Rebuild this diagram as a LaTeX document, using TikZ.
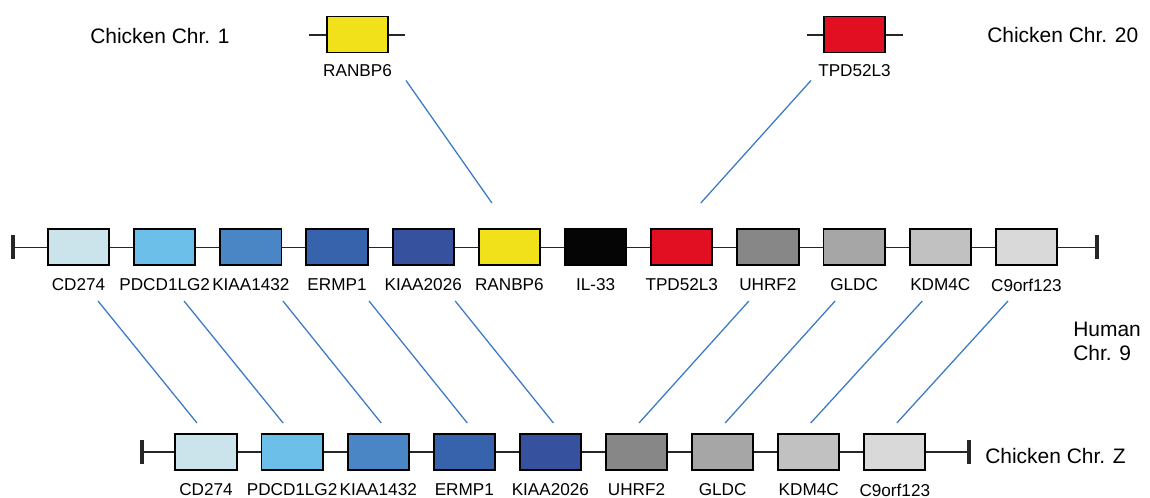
\documentclass[tikz,border=0pt]{standalone}
\usepackage{fontspec}
\setmainfont{Liberation Sans}
\usetikzlibrary{calc}
\definecolor{cCD}{HTML}{CBE3EA}
\definecolor{cPDCD}{HTML}{6BBFE8}
\definecolor{cKIAA1}{HTML}{4A86C5}
\definecolor{cERMP}{HTML}{3763AD}
\definecolor{cKIAA2}{HTML}{36529E}
\definecolor{cRAN}{HTML}{F0E11A}
\definecolor{cIL}{HTML}{050505}
\definecolor{cTPD}{HTML}{E20F23}
\definecolor{cUHRF}{HTML}{878787}
\definecolor{cGLDC}{HTML}{A6A6A6}
\definecolor{cKDM}{HTML}{C1C1C1}
\definecolor{cC9}{HTML}{D9D9D9}
\definecolor{cLink}{HTML}{3A78C8}
\tikzset{
	gene/.style={draw=black, line width=1.4pt, minimum width=1.53cm, minimum height=0.90cm, inner sep=0pt},
	glabel/.style={inner sep=0pt, font=\fontsize{12.2}{14}\selectfont},
	chrname/.style={inner sep=0pt, anchor=west, align=left, font=\fontsize{14.9}{17}\selectfont},
	chrom/.style={line width=1.1pt, black!85},
	chrend/.style={line width=2.2pt, black!85},
	link/.style={line width=0.9pt, cLink}
}

\begin{document}
\begin{tikzpicture}[x=0.025cm, y=-0.025cm]
			%%%%% START %%%%%
			\useasboundingbox (0, 0) rectangle (1150, 498);
			
			% chicken chr. 1 and 20
			\draw[chrom] (309, 35) -- (405, 35);
			\draw[chrom] (807, 35) -- (903, 35);
			\node[gene, fill=cRAN] (tRAN) at (357.5, 34.5) {};
			\node[gene, fill=cTPD] (tTPD) at (854.5, 34.5) {};
			\node[glabel] (tRANl) at (357.5, 71) {RANBP6};
			\node[glabel] (tTPDl) at (854.5, 71) {TPD52L3};
			\node[chrname] (ch1) at (90, 36) {Chicken Chr. 1};
			\node[chrname] (ch20) at (987, 35) {Chicken Chr. 20};
			
			% human chr. 9
			\coordinate (hL) at (13, 247.5);
			\coordinate (hR) at (1097, 247.5);
			\draw[chrom] (hL) -- (hR);
			\draw[chrend] ($(hL)+(0, -12)$) -- ($(hL)+(0, 12)$);
			\draw[chrend] ($(hR)+(0, -12)$) -- ($(hR)+(0, 12)$);
			
			\node[gene, fill=cCD] (h1) at (78.5, 247) {};
			\node[gene, fill=cPDCD] (h2) at (164.7, 247) {};
			\node[gene, fill=cKIAA1] (h3) at (250.9, 247) {};
			\node[gene, fill=cERMP] (h4) at (337, 247) {};
			\node[gene, fill=cKIAA2] (h5) at (423.2, 247) {};
			\node[gene, fill=cRAN] (h6) at (509.4, 247) {};
			\node[gene, fill=cIL] (h7) at (595.6, 247) {};
			\node[gene, fill=cTPD] (h8) at (681.8, 247) {};
			\node[gene, fill=cUHRF] (h9) at (767.9, 247) {};
			\node[gene, fill=cGLDC] (h10) at (854.1, 247) {};
			\node[gene, fill=cKDM] (h11) at (940.3, 247) {};
			\node[gene, fill=cC9] (h12) at (1026.5, 247) {};
			
			\node[glabel] (h1l) at (78.5, 285) {CD274};
			\node[glabel] (h2l) at (164.7, 285) {PDCD1LG2};
			\node[glabel] (h3l) at (250.9, 285) {KIAA1432};
			\node[glabel] (h4l) at (337, 285) {ERMP1};
			\node[glabel] (h5l) at (423.2, 285) {KIAA2026};
			\node[glabel] (h6l) at (509.4, 285) {RANBP6};
			\node[glabel] (h7l) at (595.6, 285) {IL-33};
			\node[glabel] (h8l) at (681.8, 285) {TPD52L3};
			\node[glabel] (h9l) at (767.9, 285) {UHRF2};
			\node[glabel] (h10l) at (854.1, 285) {GLDC};
			\node[glabel] (h11l) at (940.3, 285) {KDM4C};
			\node[glabel] (h12l) at (1026.5, 285) {C9orf123};
			
			\node[chrname] (ch9) at (1073, 341.5) {Human\\Chr. 9};
			
			% chicken chr. Z
			\coordinate (zL) at (142, 452);
			\coordinate (zR) at (969, 452);
			\draw[chrom] (zL) -- (zR);
			\draw[chrend] ($(zL)+(0, -12)$) -- ($(zL)+(0, 12)$);
			\draw[chrend] ($(zR)+(0, -12)$) -- ($(zR)+(0, 12)$);
			
			\node[gene, fill=cCD] (z1) at (206, 452) {};
			\node[gene, fill=cPDCD] (z2) at (292.1, 452) {};
			\node[gene, fill=cKIAA1] (z3) at (378.2, 452) {};
			\node[gene, fill=cERMP] (z4) at (464.3, 452) {};
			\node[gene, fill=cKIAA2] (z5) at (550.4, 452) {};
			\node[gene, fill=cUHRF] (z6) at (636.5, 452) {};
			\node[gene, fill=cGLDC] (z7) at (722.6, 452) {};
			\node[gene, fill=cKDM] (z8) at (808.7, 452) {};
			\node[gene, fill=cC9] (z9) at (894.8, 452) {};
			
			\node[glabel] (z1l) at (206, 490) {CD274};
			\node[glabel] (z2l) at (292.1, 490) {PDCD1LG2};
			\node[glabel] (z3l) at (378.2, 490) {KIAA1432};
			\node[glabel] (z4l) at (464.3, 490) {ERMP1};
			\node[glabel] (z5l) at (550.4, 490) {KIAA2026};
			\node[glabel] (z6l) at (636.5, 490) {UHRF2};
			\node[glabel] (z7l) at (722.6, 490) {GLDC};
			\node[glabel] (z8l) at (808.7, 490) {KDM4C};
			\node[glabel] (z9l) at (894.8, 490) {C9orf123};
			
			\node[chrname] (chZ) at (985, 456) {Chicken Chr. Z};
			
			% links
			\draw[link] ($(tRAN.south)+(48.5, 27)$) -- ($(h6.north)+(-17.5, -25)$);
			\draw[link] ($(tTPD.south)+(-43.5, 27)$) -- ($(h8.north)+(19, -25)$);
			
			\draw[link] ($(h1.south)+(19.5, 35)$) -- ($(z1.north)+(-9, -10)$);
			\draw[link] ($(h2.south)+(19.3, 35)$) -- ($(z2.north)+(-9, -10)$);
			\draw[link] ($(h3.south)+(32, 35)$) -- ($(z3.north)+(3, -10)$);
			\draw[link] ($(h4.south)+(32, 35)$) -- ($(z4.north)+(3, -10)$);
			\draw[link] ($(h5.south)+(32, 35)$) -- ($(z5.north)+(3, -10)$);
			\draw[link] ($(h9.south)+(-19, 35)$) -- ($(z6.north)+(2.5, -10)$);
			\draw[link] ($(h10.south)+(-19, 35)$) -- ($(z7.north)+(2.5, -10)$);
			\draw[link] ($(h11.south)+(-18, 35)$) -- ($(z8.north)+(2, -10)$);
			\draw[link] ($(h12.south)+(-18.5, 35)$) -- ($(z9.north)+(2, -10)$);
			
			%%%%% END %%%%%
		\end{tikzpicture}
\end{document}
